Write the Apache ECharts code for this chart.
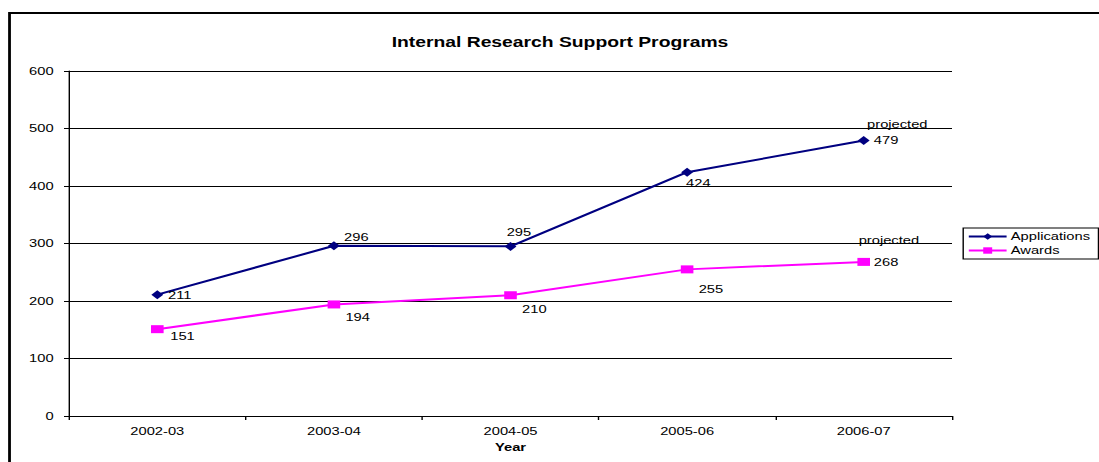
<!DOCTYPE html>
<html>
<head>
<meta charset="utf-8">
<title>Internal Research Support Programs</title>
<script src="https://cdn.jsdelivr.net/npm/echarts@6/dist/echarts.min.js"></script>
<style>
  html, body { margin: 0; padding: 0; background: #fff; overflow: hidden; }
  #wrap { width: 1099px; height: 462px; overflow: hidden; }
  /* the chart is laid out narrow and widened horizontally */
  #chart { width: 785px; height: 462px; transform: scaleX(1.4); transform-origin: 0 0; }
</style>
</head>
<body>
<div id="wrap"><div id="chart"></div></div>
<script>
const years = ['2002-03', '2003-04', '2004-05', '2005-06', '2006-07'];
const applications = [211, 296, 295, 424, 479];
const awards = [151, 194, 210, 255, 268];
const yTicks = { min: 0, max: 600, step: 100 };
const projectedIndex = 4;

// where each value label sits relative to its marker
const appLabelOffsets = [[16, 1], [16, -8], [6, -14], [8, 11], [16, 0]];
const awdLabelOffsets = [[18, 7], [17, 13], [17, 14], [17, 20], [16, 0]];

const FONT = '"Liberation Sans", Arial, sans-serif';
const NAVY = '#000080';
const MAGENTA = '#FF00FF';

function labelled(values, offsets) {
  return values.map((v, i) => ({
    value: v,
    label: { offset: offsets[i] }
  }));
}

function projectedMark(value, offset) {
  return {
    symbol: 'circle',
    symbolSize: 0,
    silent: true,
    data: [{
      coord: [projectedIndex, value],
      label: {
        show: true,
        formatter: 'projected',
        position: 'inside',
        offset: offset,
        color: '#000',
        fontFamily: FONT,
        fontSize: 10.5
      }
    }]
  };
}

const seriesLabel = {
  show: true,
  position: 'inside',
  color: '#000',
  fontFamily: FONT,
  fontSize: 10.5,
  align: 'center',
  verticalAlign: 'middle'
};

const chart = echarts.init(document.getElementById('chart'), null, { renderer: 'svg' });

chart.setOption({
  animation: false,
  backgroundColor: '#fff',
  textStyle: { fontFamily: FONT },
  graphic: [{
    type: 'rect',
    shape: { x: 6.8, y: 13, width: 900, height: 600 },
    style: { fill: 'none', stroke: '#000', lineWidth: 2 },
    silent: true,
    z: 100
  }],
  title: {
    text: 'Internal Research Support Programs',
    left: 395,
    top: 30,
    textAlign: 'center',
    textStyle: { fontFamily: FONT, fontSize: 13.8, fontWeight: 'bold', color: '#000' }
  },
  legend: {
    orient: 'vertical',
    left: 688,
    top: 228,
    padding: [3, 6, 3, 3],
    itemGap: 3,
    itemWidth: 27,
    itemHeight: 8,
    borderColor: '#000',
    borderWidth: 1,
    textStyle: { fontFamily: FONT, fontSize: 10.5, color: '#000', padding: [0, 0, 0, -2] },
    data: ['Applications', 'Awards']
  },
  grid: { left: 49.3, right: 105, top: 71, bottom: 46 },
  xAxis: {
    type: 'category',
    data: years,
    boundaryGap: true,
    name: 'Year',
    nameLocation: 'middle',
    nameGap: 25,
    nameTextStyle: { fontFamily: FONT, fontSize: 10.5, fontWeight: 'bold', color: '#000' },
    axisLine: { lineStyle: { color: '#000', width: 1 } },
    axisTick: { show: true, length: 4, lineStyle: { color: '#000' } },
    axisLabel: { margin: 10, fontFamily: FONT, fontSize: 10.5, color: '#000' },
    splitLine: { show: false }
  },
  yAxis: {
    type: 'value',
    min: yTicks.min,
    max: yTicks.max,
    interval: yTicks.step,
    axisLine: { show: true, lineStyle: { color: '#000', width: 1 } },
    axisTick: { show: true, length: 3.6, lineStyle: { color: '#000' } },
    axisLabel: { margin: 11, fontFamily: FONT, fontSize: 10.5, color: '#000' },
    splitLine: { show: true, lineStyle: { color: '#000', width: 1 } }
  },
  series: [
    {
      name: 'Applications',
      type: 'line',
      data: labelled(applications, appLabelOffsets),
      symbol: 'diamond',
      symbolSize: [8.5, 9],
      showAllSymbol: true,
      lineStyle: { color: NAVY, width: 2 },
      itemStyle: { color: NAVY, borderWidth: 0 },
      label: seriesLabel,
      markPoint: projectedMark(applications[projectedIndex], [24, -16]),
      z: 3
    },
    {
      name: 'Awards',
      type: 'line',
      data: labelled(awards, awdLabelOffsets),
      symbol: 'rect',
      symbolSize: [9, 8],
      showAllSymbol: true,
      lineStyle: { color: MAGENTA, width: 2 },
      itemStyle: { color: MAGENTA, borderWidth: 0 },
      label: seriesLabel,
      markPoint: projectedMark(awards[projectedIndex], [18, -22]),
      z: 2
    }
  ]
});
</script>
</body>
</html>
